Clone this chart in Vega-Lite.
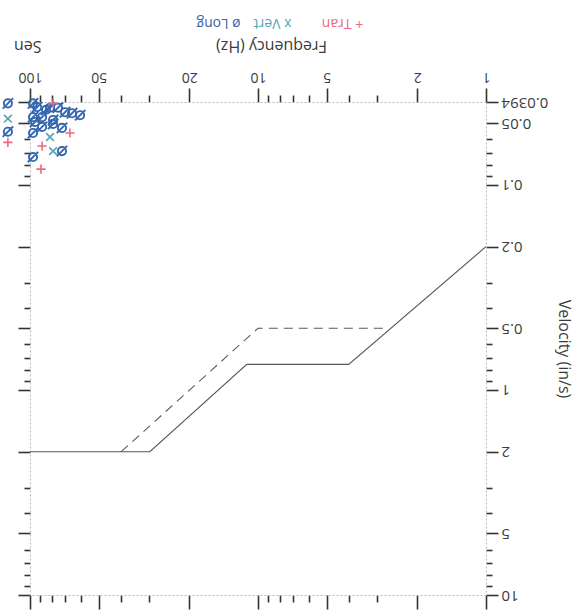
{
  "$schema": "https://vega.github.io/schema/vega-lite/v6.json",
  "width": 456,
  "height": 493,
  "autosize": {"type": "none"},
  "padding": {"left": 30, "top": 102, "right": 93, "bottom": 18},
  "background": "white",
  "config": {
    "font": "Open Sans",
    "view": {"stroke": null},
    "axis": {"grid": false, "domainColor": "#b8b8b8", "domainDash": [2, 2], "domainWidth": 1, "tickColor": "#333333", "tickWidth": 1.6, "labelColor": "#3a3a3a", "titleColor": "#3a3a3a", "labelFontSize": 14, "titleFontSize": 16, "titleFontWeight": "normal", "labelFlush": false, "labelOverlap": false}
  },
  "datasets": {
    "criteria": [
      {"freq": 1, "vel": 0.2, "curve": "Drywall"},
      {"freq": 4, "vel": 0.75, "curve": "Drywall"},
      {"freq": 11.2, "vel": 0.75, "curve": "Drywall"},
      {"freq": 29.8, "vel": 2.0, "curve": "Drywall"},
      {"freq": 100, "vel": 2.0, "curve": "Drywall"},
      {"freq": 2.7, "vel": 0.5, "curve": "Plaster"},
      {"freq": 10, "vel": 0.5, "curve": "Plaster"},
      {"freq": 39.8, "vel": 2.0, "curve": "Plaster"}
    ],
    "readings": [
      {"freq": 97, "vel": 0.040, "dir": "Long"},
      {"freq": 93, "vel": 0.0417, "dir": "Long"},
      {"freq": 85, "vel": 0.043, "dir": "Long"},
      {"freq": 81.7, "vel": 0.042, "dir": "Long"},
      {"freq": 75.4, "vel": 0.042, "dir": "Long"},
      {"freq": 70.2, "vel": 0.0442, "dir": "Long"},
      {"freq": 65.4, "vel": 0.0447, "dir": "Long"},
      {"freq": 60.3, "vel": 0.0457, "dir": "Long"},
      {"freq": 97, "vel": 0.0467, "dir": "Long"},
      {"freq": 88.5, "vel": 0.0467, "dir": "Long"},
      {"freq": 79.2, "vel": 0.0482, "dir": "Long"},
      {"freq": 79.2, "vel": 0.0504, "dir": "Long"},
      {"freq": 95, "vel": 0.0493, "dir": "Long"},
      {"freq": 88.5, "vel": 0.0521, "dir": "Long"},
      {"freq": 72.4, "vel": 0.0527, "dir": "Long"},
      {"freq": 97, "vel": 0.0558, "dir": "Long"},
      {"freq": 72.4, "vel": 0.0684, "dir": "Long"},
      {"freq": 97, "vel": 0.0731, "dir": "Long"},
      {"freq": 125, "vel": 0.040, "dir": "Long"},
      {"freq": 125, "vel": 0.055, "dir": "Long"},
      {"freq": 81.7, "vel": 0.0584, "dir": "Vert"},
      {"freq": 79.2, "vel": 0.0684, "dir": "Vert"},
      {"freq": 125, "vel": 0.0475, "dir": "Vert"},
      {"freq": 79.2, "vel": 0.040, "dir": "Tran"},
      {"freq": 66.8, "vel": 0.0558, "dir": "Tran"},
      {"freq": 88.5, "vel": 0.0646, "dir": "Tran"},
      {"freq": 89.5, "vel": 0.0837, "dir": "Tran"},
      {"freq": 125, "vel": 0.062, "dir": "Tran"}
    ]
  },
  "encoding": {
    "x": {"field": "freq", "type": "quantitative", "scale": {"type": "log", "domain": [1, 100], "reverse": true}},
    "y": {"field": "vel", "type": "quantitative", "scale": {"type": "log", "domain": [0.0394, 10], "reverse": true}}
  },
  "layer": [
    {
      "data": {"name": "criteria"},
      "transform": [{"filter": "datum.curve == 'Drywall'"}],
      "mark": {"type": "line", "strokeWidth": 1.1, "color": "#555555"},
      "encoding": {
        "x": {
          "field": "freq", "type": "quantitative",
          "axis": {
            "orient": "top",
            "values": [1, 2, 3, 4, 5, 6, 7, 8, 9, 10, 20, 30, 40, 50, 60, 70, 80, 90, 100],
            "format": "~g",
            "labelExpr": "indexof([1, 2, 5, 10, 20, 50, 100], datum.value) >= 0 ? datum.label : ''",
            "labelAngle": 180, "labelAlign": "center", "labelBaseline": "top", "labelPadding": 5,
            "tickSize": {"condition": {"test": "indexof([1, 2, 5, 10, 20, 50, 100], datum.value) >= 0", "value": 14}, "value": 7},
            "title": "Frequency (Hz)", "titleAngle": 180, "titleX": 241, "titleY": -57, "titleAlign": "center", "titleBaseline": "middle"
          }
        },
        "y": {
          "field": "vel", "type": "quantitative",
          "axis": {
            "orient": "right",
            "values": [0.0394, 0.05, 0.06, 0.07, 0.08, 0.09, 0.1, 0.2, 0.3, 0.4, 0.5, 0.6, 0.7, 0.8, 0.9, 1, 2, 3, 4, 5, 6, 7, 8, 9, 10],
            "format": "~g",
            "labelExpr": "indexof([0.0394, 0.05, 0.1, 0.2, 0.5, 1, 2, 5, 10], datum.value) >= 0 ? datum.label : ''",
            "labelAngle": 180, "labelAlign": "right", "labelBaseline": "middle", "labelPadding": 3, "labelFontSize": 15,
            "tickSize": {"condition": {"test": "indexof([0.0394, 0.05, 0.1, 0.2, 0.5, 1, 2, 5, 10], datum.value) >= 0", "value": 12}, "value": 6},
            "title": "Velocity (in/s)", "titleAngle": 90, "titlePadding": 8
          }
        }
      }
    },
    {
      "data": {"name": "criteria"},
      "transform": [{"filter": "datum.curve == 'Plaster'"}],
      "mark": {"type": "line", "strokeWidth": 1.1, "color": "#5a5a5a", "strokeDash": [9, 6]},
      "encoding": {
        "x": {
          "field": "freq", "type": "quantitative",
          "axis": {
            "orient": "bottom",
            "values": [1, 2, 3, 4, 5, 6, 7, 8, 9, 10, 20, 30, 40, 50, 60, 70, 80, 90, 100],
            "labels": false,
            "tickSize": {"condition": {"test": "indexof([1, 2, 5, 10, 20, 50, 100], datum.value) >= 0", "value": 14}, "value": 7},
            "title": null
          }
        },
        "y": {
          "field": "vel", "type": "quantitative",
          "axis": {
            "orient": "left",
            "values": [0.0394, 0.05, 0.06, 0.07, 0.08, 0.09, 0.1, 0.2, 0.3, 0.4, 0.5, 0.6, 0.7, 0.8, 0.9, 1, 2, 3, 4, 5, 6, 7, 8, 9, 10],
            "labels": false,
            "tickSize": {"condition": {"test": "indexof([0.0394, 0.05, 0.1, 0.2, 0.5, 1, 2, 5, 10], datum.value) >= 0", "value": 12}, "value": 6},
            "title": "Sen", "titleAngle": 180, "titleAlign": "left", "titleBaseline": "middle", "titleX": 11, "titleY": -57
          }
        }
      }
    },
    {
      "data": {"name": "readings"},
      "transform": [{"filter": "datum.dir == 'Long'"}],
      "mark": {"type": "point", "filled": false, "strokeWidth": 1.9, "size": 120, "opacity": 1, "color": "#3366b0", "shape": "M0.75,0A0.75,0.75,0,1,1,-0.75,0A0.75,0.75,0,1,1,0.75,0M-0.95,0.95L0.95,-0.95"},
      "encoding": {
        "x": {
          "field": "freq", "type": "quantitative",
          "axis": {"orient": "top", "domain": false, "ticks": false, "labels": false, "title": "ø Long", "titleColor": "#3366b0", "titleFontSize": 14, "titleAngle": 180, "titleAlign": "center", "titleBaseline": "middle", "titleX": 188, "titleY": -80}
        },
        "y": {"field": "vel", "type": "quantitative", "axis": null}
      }
    },
    {
      "data": {"name": "readings"},
      "transform": [{"filter": "datum.dir == 'Vert'"}],
      "mark": {"type": "point", "filled": false, "strokeWidth": 1.7, "size": 105, "opacity": 1, "color": "#55a7b6", "shape": "M-0.75,-0.75L0.75,0.75M-0.75,0.75L0.75,-0.75"},
      "encoding": {
        "x": {
          "field": "freq", "type": "quantitative",
          "axis": {"orient": "top", "domain": false, "ticks": false, "labels": false, "title": "x Vert", "titleColor": "#55a7b6", "titleFontSize": 14, "titleAngle": 180, "titleAlign": "center", "titleBaseline": "middle", "titleX": 242, "titleY": -80}
        },
        "y": {"field": "vel", "type": "quantitative", "axis": null}
      }
    },
    {
      "data": {"name": "readings"},
      "transform": [{"filter": "datum.dir == 'Tran'"}],
      "mark": {"type": "point", "filled": false, "strokeWidth": 1.6, "size": 105, "opacity": 1, "color": "#e86b80", "shape": "M-0.9,0L0.9,0M0,-0.9L0,0.9"},
      "encoding": {
        "x": {
          "field": "freq", "type": "quantitative",
          "axis": {"orient": "top", "domain": false, "ticks": false, "labels": false, "title": "+ Tran", "titleColor": "#e86b80", "titleFontSize": 14, "titleAngle": 180, "titleAlign": "center", "titleBaseline": "middle", "titleX": 312, "titleY": -80}
        },
        "y": {"field": "vel", "type": "quantitative", "axis": null}
      }
    }
  ],
  "resolve": {"axis": {"x": "independent", "y": "independent"}}
}
